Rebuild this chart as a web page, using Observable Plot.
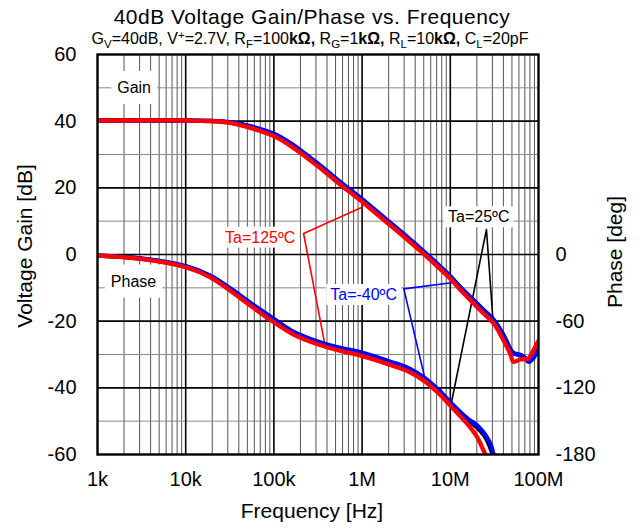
<!DOCTYPE html>
<html><head><meta charset="utf-8">
<script src="https://cdn.jsdelivr.net/npm/d3@7"></script>
<script src="https://cdn.jsdelivr.net/npm/@observablehq/plot@0.6"></script>
<style>
body{margin:0;background:#fff;}
#chart{position:relative;width:640px;height:528px;}
</style>
</head><body><div id="chart"></div>
<script>
// ---------- data ----------
const freqTicks = [1e3, 1e4, 1e5, 1e6, 1e7, 1e8];
const freqTickLabels = ["1k", "10k", "100k", "1M", "10M", "100M"];
const gainTicks = [-60, -40, -20, 0, 20, 40, 60];
const phaseTicks = [0, -60, -120, -180];

const gainFreq = [1e3, 3e3, 1e4, 2e4, 3.2e4, 5.4e4, 1e5, 1.54e5, 2e5, 2.6e5, 3.4e5, 5.7e5, 1e6, 1.6e6, 2.7e6, 4.6e6, 7.7e6, 1e7, 1.3e7, 2.2e7, 3.1e7, 4e7, 4.8e7, 5.2e7, 6.2e7, 7e7, 7.7e7, 8.7e7, 1e8];
const gain125 = [40.2, 40.2, 40.2, 40.0, 39.5, 38.0, 35.5, 32.6, 30.5, 28.2, 25.8, 20.9, 15.8, 11.3, 6.3, 1.0, -4.4, -7.3, -10.6, -16.8, -20.7, -25.7, -29.9, -32.2, -31.5, -31.4, -31.2, -28.9, -25.9];
const gainM40 = [40.2, 40.2, 40.2, 40.1, 39.7, 38.5, 36.2, 33.4, 31.3, 29.0, 26.6, 21.7, 16.6, 12.1, 7.1, 1.8, -3.6, -6.5, -9.8, -15.8, -19.7, -24.3, -28.6, -29.7, -30.2, -31.0, -32.2, -31.2, -27.5];
const gain25 = [40.2, 40.2, 40.2, 40.05, 39.6, 38.3, 35.9, 33.0, 30.9, 28.6, 26.2, 21.3, 16.2, 11.7, 6.7, 1.5, -3.8, -6.7, -9.9, -15.8, -19.6, -24.1, -28.4, -29.6, -30.1, -31.0, -31.9, -31.1, -27.5];

const phaseFreq = [1e3, 3.1e3, 1e4, 1.9e4, 3.2e4, 5.4e4, 1e5, 1.54e5, 2e5, 2.6e5, 3.85e5, 6e5, 9.7e5, 2.1e6, 3.5e6, 5.2e6, 7.5e6, 1e7, 1.56e7, 2e7, 2.4e7, 2.6e7, 2.9e7, 3.1e7, 3.4e7];
const phase125 = [-1, -4, -11.5, -20.5, -32.6, -46, -61, -70.5, -75, -78.5, -83, -87.2, -91, -99.5, -106, -114.5, -125.5, -136, -152.5, -164, -177, -183, -192, -198, -206];
const phaseM40 = [-1, -3.5, -10.5, -19, -30.5, -43.5, -58, -68, -72.5, -76, -80.5, -84.5, -88, -96.5, -103, -111.5, -122.5, -133, -147.5, -153.5, -160.5, -164.5, -172, -180, -188];
const phase25 = [-1, -3.7, -10.8, -19.5, -31.2, -44.5, -59.3, -69, -73.5, -77, -81.5, -85.5, -89, -97.5, -104, -112.5, -123.5, -134, -149, -155.5, -162.5, -167, -176, -183, -191];

const seriesNames = ["Ta=25ºC", "Ta=-40ºC", "Ta=125ºC"];
const seriesColors = ["#000000", "#0000ff", "#ff0000"];
const gainSeries = [gain25, gainM40, gain125];
const phaseSeries = [phase25, phaseM40, phase125];

// annotation labels [freq, gain-axis value]
const labelText = ["Gain", "Phase"];
const labelPos = [[2.6e3, 50], [2.56e3, -8.1]];
const tempLabelPos = [[2.1e7, 11.2], [1.04e6, -12.1], [7.0e4, 5.1]];
// leader lines: [freq, gain-axis value] polylines, one per temperature
const leader25 = [[3.06e7, -20.4], [2.57e7, 7.5], [1.02e7, -45.0]];
const leaderM40 = [[1.09e7, -8.4], [2.97e6, -10.3], [5.24e6, -38.0]];
const leader125 = [[1.0e6, 14.2], [2.17e5, 6.3], [3.85e5, -28.0]];
const leaders = [leader25, leaderM40, leader125];

const DEG_PER_DB = 3; // right axis: phase (deg) = 3 × left-axis units

// ---------- derived tables ----------
const minorFreq = [];
for (let d = 1e3; d < 1e8; d *= 10) for (let k = 2; k <= 9; k++) minorFreq.push(k * d);
const majorFreq = freqTicks.slice(1, -1);
const majorGain = [-40, -20, 0, 20, 40];
const minorGain = [-50, -30, -10, 10, 30, 50];

const gainRows = [], phaseRows = [], leaderRows = [];
seriesNames.forEach((s, k) => {
  gainFreq.forEach((f, i) => gainRows.push({s, f, v: gainSeries[k][i]}));
  phaseFreq.forEach((f, i) => phaseRows.push({s, f, v: phaseSeries[k][i] / DEG_PER_DB}));
  leaders[k].forEach(([f, v]) => leaderRows.push({s, f, v}));
});
const tempLabels = seriesNames.map((s, k) => ({s, f: tempLabelPos[k][0], v: tempLabelPos[k][1]}));
const plainLabels = labelText.map((t, k) => ({t, f: labelPos[k][0], v: labelPos[k][1]}));

const FONT = "'Liberation Sans', Arial, Helvetica, sans-serif";
const color = {domain: seriesNames, range: seriesColors};

const plot = Plot.plot({
  width: 640, height: 528,
  marginLeft: 97, marginRight: 102, marginTop: 54, marginBottom: 74,
  style: {fontFamily: FONT, fontSize: "20px", background: "#fff", color: "#000"},
  x: {type: "log", domain: [1e3, 1e8]},
  y: {domain: [-60, 60]},
  color,
  marks: [
    Plot.ruleX(minorFreq, {stroke: "#555", strokeWidth: 1}),
    Plot.ruleY(minorGain, {stroke: "#888", strokeWidth: 1}),
    Plot.ruleX(majorFreq, {stroke: "#000", strokeWidth: 1.6}),
    Plot.ruleY(majorGain, {stroke: "#000", strokeWidth: 1.6}),
    Plot.text(plainLabels, {x: "f", y: "v", text: "t", fontSize: 16, fill: "#000", className: "boxA"}),
    Plot.text(tempLabels, {x: "f", y: "v", text: "s", fontSize: 16, fill: d => d.s, className: "boxB"}),
    Plot.line(leaderRows, {x: "f", y: "v", z: "s", stroke: "s", strokeWidth: 1.6}),
    Plot.line(gainRows, {x: "f", y: "v", z: "s", stroke: "s", strokeWidth: 4.3, curve: "catmull-rom", clip: true}),
    Plot.line(phaseRows, {x: "f", y: "v", z: "s", stroke: "s", strokeWidth: 4.3, curve: "catmull-rom", clip: true}),
    Plot.frame({stroke: "#000", strokeWidth: 2.4}),
    Plot.axisY({anchor: "left", ticks: gainTicks, tickFormat: d => String(d), tickSize: 0, tickPadding: 21, label: null, fontSize: 20}),
    Plot.axisY({anchor: "right", ticks: phaseTicks.map(p => p / DEG_PER_DB), tickFormat: d => String(Math.round(d * DEG_PER_DB)), tickSize: 0, tickPadding: 17, label: null, fontSize: 20}),
    Plot.axisX({ticks: freqTicks, tickFormat: d => freqTickLabels[freqTicks.indexOf(d)], tickSize: 0, tickPadding: 17, label: null, fontSize: 20})
  ]
});

document.getElementById("chart").appendChild(plot);
const svg = d3.select(plot);

// white boxes behind annotation texts
function boxes(cls, px, py) {
  svg.selectAll(`g.${cls} text`).each(function () {
    const b = this.getBBox();
    const r = document.createElementNS("http://www.w3.org/2000/svg", "rect");
    r.setAttribute("x", b.x - px); r.setAttribute("y", b.y - py);
    r.setAttribute("width", b.width + 2 * px); r.setAttribute("height", b.height + 2 * py);
    r.setAttribute("fill", "#fff"); r.setAttribute("stroke", "none");
    const t = this.getAttribute("transform"); if (t) r.setAttribute("transform", t);
    this.parentNode.insertBefore(r, this);
  });
}
boxes("boxA", 6, 8);
boxes("boxB", 4, 2);

// titles and axis labels
const T = svg.append("g").attr("font-family", FONT).attr("fill", "#000");
T.append("text").attr("x", 312).attr("y", 24).attr("text-anchor", "middle").attr("font-size", 21).style("letter-spacing", "0.5px")
  .text("40dB Voltage Gain/Phase vs. Frequency");
const sub = T.append("text").attr("x", 310).attr("y", 44).attr("text-anchor", "middle").attr("font-size", 16);
const parts = [
  ["G"], ["V", "sub"], ["=40dB, V"], ["+", "sup"], ["=2.7V, R"], ["F", "sub"], ["=100"], ["kΩ,", "b"],
  [" R"], ["G", "sub"], ["=1"], ["kΩ,", "b"], [" R"], ["L", "sub"], ["=10"], ["kΩ,", "b"], [" C"], ["L", "sub"], ["=20pF"]
];
let shift = 0;
for (const [txt, kind] of parts) {
  const ts = sub.append("tspan").text(txt);
  let target = 0;
  if (kind === "sub") { target = 4; ts.attr("font-size", 11.5); }
  if (kind === "sup") { target = -5; ts.attr("font-size", 11.5); }
  if (kind === "b") ts.attr("font-weight", "bold");
  if (target !== shift) { ts.attr("dy", target - shift); shift = target; }
}
T.append("text").attr("transform", "translate(32,246) rotate(-90)").attr("text-anchor", "middle").attr("font-size", 21)
  .text("Voltage Gain [dB]");
T.append("text").attr("transform", "translate(622,252) rotate(-90)").attr("text-anchor", "middle").attr("font-size", 21)
  .text("Phase [deg]");
T.append("text").attr("x", 312).attr("y", 518).attr("text-anchor", "middle").attr("font-size", 21)
  .text("Frequency [Hz]");
</script>
</body></html>
